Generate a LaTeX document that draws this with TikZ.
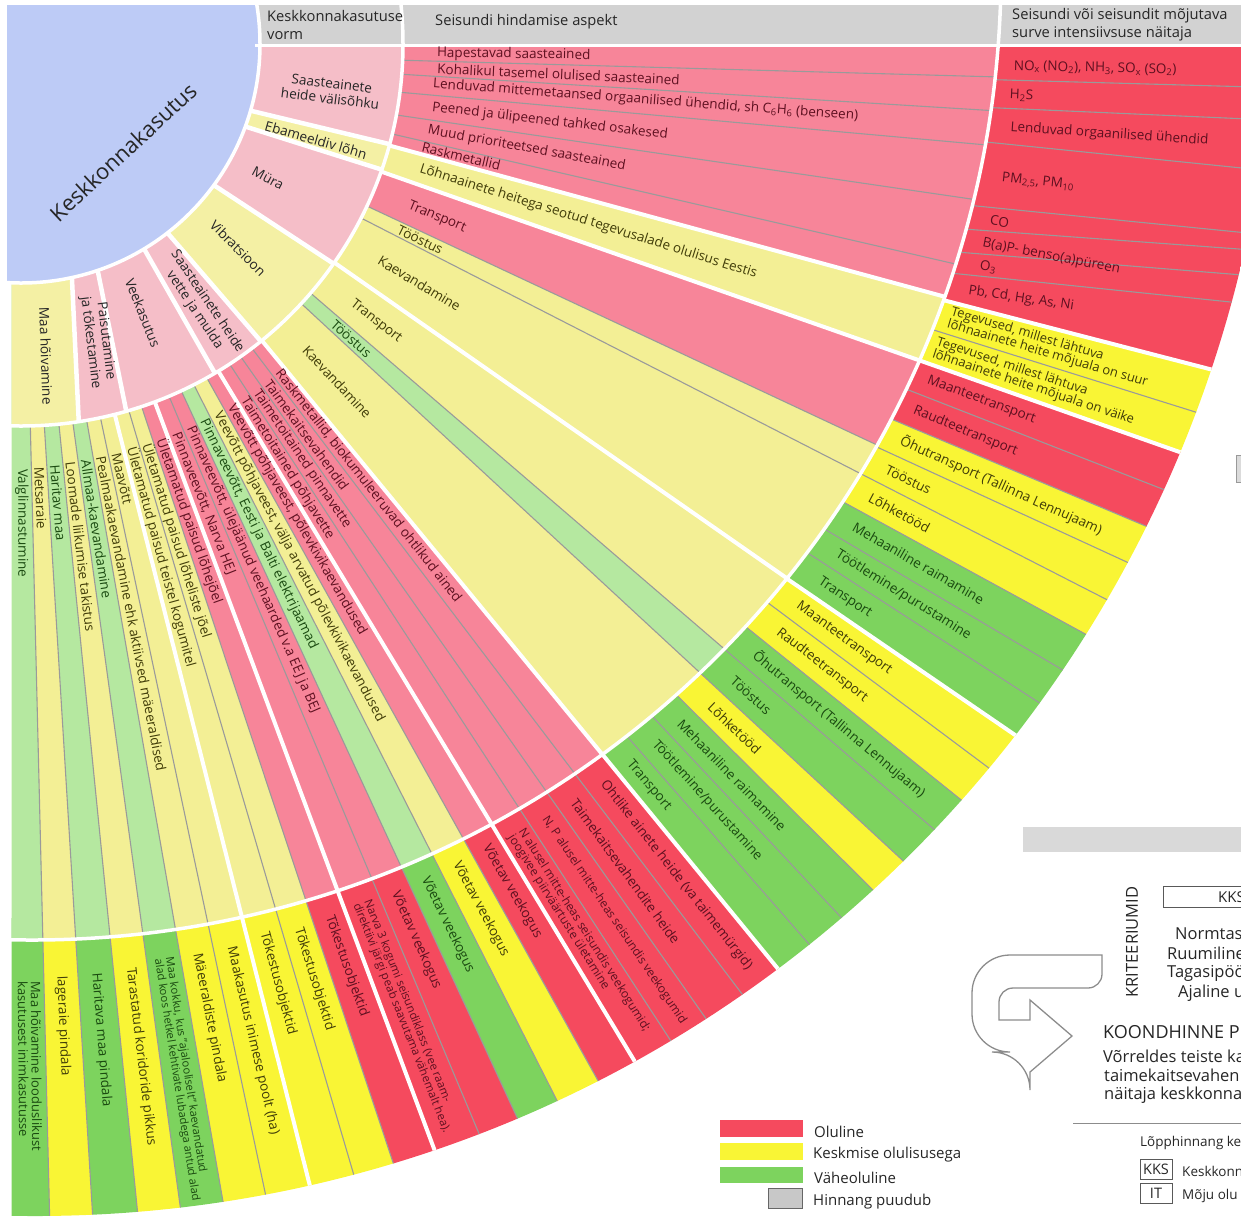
\documentclass[tikz,border=0pt]{standalone}
\usepackage{fontspec}
\setmainfont{Open Sans}
\usetikzlibrary{calc}
\definecolor{hdr}{HTML}{D2D2D2}
\definecolor{blu}{HTML}{BDCBF6}
\definecolor{pA}{HTML}{F5BEC8}
\definecolor{yA}{HTML}{F4F0A4}
\definecolor{pB}{HTML}{F78599}
\definecolor{yB}{HTML}{F3EF95}
\definecolor{gB}{HTML}{B5E8A0}
\definecolor{rC}{HTML}{F54A5E}
\definecolor{yC}{HTML}{F9F535}
\definecolor{gC}{HTML}{7DD35E}
\definecolor{tR}{HTML}{5E1020}
\definecolor{tY}{HTML}{403C08}
\definecolor{tG}{HTML}{1A4A10}
\definecolor{tK}{HTML}{262626}
\definecolor{sepg}{HTML}{9A9A9A}
\definecolor{lgr}{HTML}{C8C8C8}
\newcounter{tn}
\newcommand\RadIn{0}
\newcommand\RadOut{0}
\newcommand\mkband[5]{%
  \path ($(O)+(#1:\RadIn)$) coordinate (pa) ($(O)+(#2:\RadOut)$) coordinate (qa)
        ($(O)+(#3:\RadIn)$) coordinate (pb) ($(O)+(#4:\RadOut)$) coordinate (qb);
  \fill[#5] ($(pa)!-0.4!(qa)$) -- ($(pa)!1.4!(qa)$) -- ($(pb)!1.4!(qb)$) -- ($(pb)!-0.4!(qb)$) -- cycle;}
\newcommand\mksep[3]{%
  \path ($(O)+(#1:\RadIn)$) coordinate (pa) ($(O)+(#2:\RadOut)$) coordinate (qa);
  \draw[#3] ($(pa)!-0.4!(qa)$) -- ($(pa)!1.4!(qa)$);}
\newcommand\mktext[5]{\stepcounter{tn}%
  \node[rtxt, rotate=-#3, text=#4] (t\arabic{tn}) at ($(O)+(#1:#2)$) {#5};}
\newcommand\mktextf[6]{\stepcounter{tn}%
  \node[rtxt, font=\fontsize{#6}{#6}\selectfont, rotate=-#3, text=#4] (t\arabic{tn}) at ($(O)+(#1:#2)$) {#5};}
\begin{document}
\begin{tikzpicture}[x=1pt,y=-1pt,
  rtxt/.style={font=\fontsize{13.5}{15}\selectfont, inner sep=0pt, anchor=west, align=left},
  onetxt/.style={font=\fontsize{13.6}{15.5}\selectfont, inner sep=0pt, align=center, text=tK},
  hd/.style={font=\fontsize{14.7}{18}\selectfont, text=tK, anchor=west, align=left, inner sep=0pt},
  lg/.style={font=\fontsize{15}{18}\selectfont, text=tK, anchor=west, inner sep=0pt},
  rp/.style={font=\fontsize{16.5}{19}\selectfont, text=tK, anchor=west, inner sep=0pt},
  sm/.style={font=\fontsize{13.5}{16}\selectfont, text=tK, anchor=west, inner sep=0pt},
  wsep/.style={white, line width=4pt},
  gsep/.style={sepg, line width=1.1pt},
  wring/.style={white, line width=3.5pt}]
\useasboundingbox (0,0) rectangle (1241,1219);
\clip (0,0) rectangle (1241,1219);
\coordinate (O) at (21,44);
\coordinate (C2) at (32,-29);
\coordinate (C3) at (35,-24);

% header band
\fill[hdr] (255,5) rectangle (1241,44.5);

% ---------- ring 3 ----------
\begin{scope}
\clip (11.7,44) rectangle (1241,1219);
\clip (C3) circle (1240);
\renewcommand\RadIn{975}\renewcommand\RadOut{1225}
\mkband{0}{0}{2.1}{2.0}{rC}
\mkband{2.1}{2.0}{3.75}{3.5}{rC}
\mkband{3.75}{3.5}{5.8}{5.8}{rC}
\mkband{5.8}{5.8}{9.6}{8.8}{rC}
\mkband{9.6}{8.8}{11.0}{9.6}{rC}
\mkband{11.0}{9.6}{12.4}{10.8}{rC}
\mkband{12.4}{10.8}{13.7}{12.1}{rC}
\mkband{13.7}{12.1}{15.5}{15.3}{rC}
\mkband{15.5}{15.3}{17.4}{17.4}{yC}
\mkband{17.4}{17.4}{19.4}{19.4}{yC}
\mkband{19.4}{19.4}{21.3}{21.3}{rC}
\mkband{21.3}{21.3}{23.3}{23.2}{rC}
\mkband{23.3}{23.2}{25.2}{25.1}{yC}
\mkband{25.2}{25.1}{27.1}{27.1}{yC}
\mkband{27.1}{27.1}{29.1}{29.0}{yC}
\mkband{29.1}{29.0}{31.1}{31.0}{gC}
\mkband{31.1}{31.0}{32.9}{32.9}{gC}
\mkband{32.9}{32.9}{34.9}{34.8}{gC}
\mkband{34.9}{34.8}{36.8}{36.8}{yC}
\mkband{36.8}{36.8}{38.8}{38.8}{yC}
\mkband{38.8}{38.8}{40.7}{40.7}{gC}
\mkband{40.7}{40.7}{42.8}{42.8}{gC}
\mkband{42.8}{42.8}{44.8}{44.8}{yC}
\mkband{44.8}{44.8}{46.8}{46.8}{gC}
\mkband{46.8}{46.8}{48.8}{48.8}{gC}
\mkband{48.8}{48.8}{50.7}{50.7}{gC}
\mkband{50.7}{50.7}{52.8}{52.8}{rC}
\mkband{52.8}{52.8}{54.9}{54.9}{rC}
\mkband{54.9}{54.9}{56.9}{56.9}{rC}
\mkband{56.9}{56.9}{58.9}{58.9}{rC}
\mkband{58.9}{58.9}{60.9}{60.9}{rC}
\mkband{60.9}{60.9}{63.1}{63.1}{yC}
\mkband{63.1}{63.1}{65.2}{65.2}{gC}
\mkband{65.2}{65.2}{67.2}{67.2}{rC}
\mkband{67.2}{67.2}{69.5}{69.5}{rC}
\mkband{69.5}{69.5}{71.6}{71.6}{rC}
\mkband{71.6}{71.6}{73.6}{73.6}{yC}
\mkband{73.6}{73.6}{75.8}{75.8}{yC}
\mkband{75.8}{75.8}{78.0}{78.0}{yC}
\mkband{78.0}{78.0}{80.1}{80.1}{yC}
\mkband{80.1}{80.1}{82.2}{82.2}{gC}
\mkband{82.2}{82.2}{84.3}{84.3}{yC}
\mkband{84.3}{84.3}{86.5}{86.5}{gC}
\mkband{86.5}{86.5}{88.6}{88.6}{yC}
\mkband{88.6}{88.6}{94}{94}{gC}
\foreach \a/\b in {2.1/2.0,3.75/3.5,5.8/5.8,9.6/8.8,11.0/9.6,12.4/10.8,13.7/12.1,17.4/17.4,
  21.3/21.3,23.3/23.2,25.2/25.1,27.1/27.1,29.1/29.0,31.1/31.0,32.9/32.9,
  36.8/36.8,38.8/38.8,40.7/40.7,42.8/42.8,44.8/44.8,46.8/46.8,48.8/48.8,
  52.8/52.8,54.9/54.9,56.9/56.9,60.9/60.9,63.1/63.1,65.2/65.2,67.2/67.2,
  71.6/71.6,73.6/73.6,78.0/78.0,80.1/80.1,82.2/82.2,84.3/84.3,86.5/86.5,88.6/88.6}
  {\mksep{\a}{\b}{gsep}}
\foreach \a/\b in {15.5/15.3,19.4/19.4,34.9/34.8,50.7/50.7,58.9/58.9,69.5/69.5,75.8/75.8}
  {\mksep{\a}{\b}{wsep}}
\end{scope}

% ---------- ring 2 ----------
\begin{scope}
\clip (11.7,44) rectangle (1241,1219);
\clip (C2) circle (969);
\renewcommand\RadIn{400}\renewcommand\RadOut{960}
\mkband{0}{0}{2.4}{1.94}{pB}
\mkband{2.4}{1.94}{4.5}{3.93}{pB}
\mkband{4.5}{3.93}{7.16}{5.98}{pB}
\mkband{7.16}{5.98}{10.6}{9.27}{pB}
\mkband{10.6}{9.27}{13.6}{13.25}{pB}
\mkband{13.6}{13.25}{15.4}{15.3}{pB}
\mkband{15.4}{15.3}{19.5}{19.4}{yB}
\mkband{19.5}{19.4}{25.1}{25.1}{pB}
\mkband{25.1}{25.1}{27.1}{27.1}{yB}
\mkband{27.1}{27.1}{34.9}{34.9}{yB}
\mkband{34.9}{34.9}{40.7}{40.7}{yB}
\mkband{40.7}{40.7}{42.8}{42.8}{gB}
\mkband{42.8}{42.8}{50.9}{50.7}{yB}
\mkband{50.9}{50.7}{52.8}{52.8}{pB}
\mkband{52.8}{52.8}{54.9}{54.9}{pB}
\mkband{54.9}{54.9}{56.9}{56.9}{pB}
\mkband{56.9}{56.9}{58.9}{58.9}{pB}
\mkband{58.9}{58.9}{60.9}{60.9}{pB}
\mkband{60.9}{60.9}{63.1}{63.1}{yB}
\mkband{63.1}{63.1}{65.2}{65.2}{gB}
\mkband{65.2}{65.2}{67.2}{67.2}{pB}
\mkband{67.2}{67.2}{69.5}{69.5}{pB}
\mkband{69.5}{69.5}{71.6}{71.6}{pB}
\mkband{71.6}{71.6}{73.6}{73.6}{yB}
\mkband{73.6}{73.6}{75.8}{75.8}{yB}
\mkband{75.8}{75.8}{78.0}{78.0}{yB}
\mkband{78.0}{78.0}{80.1}{80.1}{yB}
\mkband{80.1}{80.1}{82.2}{82.2}{gB}
\mkband{82.2}{82.2}{84.3}{84.3}{yB}
\mkband{84.3}{84.3}{86.5}{86.5}{gB}
\mkband{86.5}{86.5}{88.6}{88.6}{yB}
\mkband{88.6}{88.6}{94}{94}{gB}
\foreach \a/\b in {2.4/1.94,4.5/3.93,7.16/5.98,10.6/9.27,13.6/13.25,25.1/25.1,27.1/27.1,40.7/40.7,42.8/42.8,
  52.8/52.8,54.9/54.9,56.9/56.9,60.9/60.9,63.1/63.1,65.2/65.2,67.2/67.2,71.6/71.6,73.6/73.6,
  78.0/78.0,80.1/80.1,82.2/82.2,84.3/84.3,86.5/86.5,88.6/88.6}
  {\mksep{\a}{\b}{gsep}}
\foreach \a/\b in {15.4/15.3,19.5/19.4,34.9/34.9,50.9/50.7,58.9/58.9,69.5/69.5,75.8/75.8}
  {\mksep{\a}{\b}{wsep}}
\end{scope}

% ---------- ring 1 ----------
\begin{scope}
\clip (11.7,44) rectangle (1241,1219);
\clip (O) circle (382);
\renewcommand\RadIn{239}\renewcommand\RadOut{382}
\mkband{0}{0}{16.2}{15.2}{pA}
\mkband{16.2}{15.2}{20.2}{19.2}{yA}
\mkband{20.2}{19.2}{36.2}{35.1}{pA}
\mkband{36.2}{35.1}{52.2}{51.1}{yA}
\mkband{52.2}{51.1}{59.0}{59.5}{pA}
\mkband{59.0}{59.5}{71.3}{74.0}{pA}
\mkband{71.3}{74.0}{77.7}{81.3}{pA}
\mkband{77.7}{81.3}{94}{94}{yA}
\foreach \a/\b in {16.2/15.2,20.2/19.2,36.2/35.1,52.2/51.1,59.0/59.5,71.3/74.0,77.7/81.3}
  {\mksep{\a}{\b}{line width=4.5pt, white}}
\end{scope}

% ---------- centre ----------
\begin{scope}
\clip (7,5) rectangle (1241,1219);
\fill[blu] (O) circle (239);
\end{scope}
\draw[wring] (O) circle (239);
\draw[wring] (O) circle (382);
\draw[wring] (C2) circle (969);
\draw[white, line width=3pt] (255,45.5) -- (1241,45.5);

% ---------- header texts ----------
\node[hd] (h1) at (267,25) {Keskkonnakasutuse\\vorm};
\node[hd] (h2) at (435,22) {Seisundi hindamise aspekt};
\node[hd] (h3) at (1012,25) {Seisundi või seisundit mõjutava\\surve intensiivsuse näitaja};

% ---------- centre & ring 1 texts ----------
\node[font=\fontsize{22}{24}\selectfont, text=tK, rotate=43, inner sep=0pt] (kk) at (123,152) {Keskkonnakasutus};
\node[onetxt, rotate=-7] (c1) at (331,91) {Saasteainete\\heide välisõhku};
\node[onetxt, rotate=-16] (c2) at (316,140) {Ebameeldiv lõhn};
\node[onetxt, rotate=-28] (c3) at (268,178) {Müra};
\node[onetxt, rotate=-45] (c4) at (238,248) {Vibratsioon};
\node[onetxt, rotate=-56] (c5) at (201,306) {Saasteainete heide\\vette ja mulda};
\node[onetxt, rotate=-68] (c6) at (143,313) {Veekasutus};
\node[onetxt, rotate=-83] (c7) at (98,342) {Paisutamine\\ja tõkestamine};
\node[onetxt, rotate=-88] (c8) at (46,356) {Maa hõivamine};

% ---------- ring 2 texts ----------
\mktext{1.3}{416}{0.9}{tR}{Hapestavad saasteained}
\mktext{3.4}{417}{2.6}{tR}{Kohalikul tasemel olulised saasteained}
\mktext{5.6}{414}{4.3}{tR}{Lenduvad mittemetaansed orgaanilised ühendid, sh C\textsubscript{6}H\textsubscript{6} (benseen)}
\mktext{8.8}{416}{6.7}{tR}{Peened ja ülipeened tahked osakesed}
\mktext{12.0}{416}{10.3}{tR}{Muud prioriteetsed saasteained}
\mktext{14.4}{414}{13.3}{tR}{Raskmetallid}
\mktext{17.4}{418}{17.4}{tY}{Lõhnaainete heitega seotud tegevusalade olulisus Eestis}
\mktext{22.6}{420}{22.6}{tR}{Transport}
\mktext{26.1}{420}{26.1}{tY}{Tööstus}
\mktext{31.0}{418}{31.0}{tY}{Kaevandamine}
\mktext{38.0}{420}{38.0}{tY}{Transport}
\mktext{41.75}{418}{41.75}{tG}{Tööstus}
\mktext{46.9}{416}{46.9}{tY}{Kaevandamine}
\mktext{51.8}{416}{51.8}{tR}{Raskmetallid, biokumuleeruvad ohtlikud ained}
\mktext{53.85}{418}{53.85}{tR}{Taimekaitsevahendid}
\mktext{55.9}{419}{55.9}{tR}{Taimetoitained pinnavette}
\mktext{57.9}{419}{57.9}{tR}{Taimetoitained põhjavette}
\mktext{59.9}{418}{59.9}{tR}{Veevõtt põhjaveest, põlevkivikaevandused}
\mktext{62.0}{418}{62.0}{tY}{Veevõtt põhjaveest, välja arvatud põlevkivikaevandused}
\mktext{64.15}{418}{64.15}{tG}{Pinnaveevõtt, Eesti ja Balti elektrijaamad}
\mktext{66.2}{419}{66.2}{tR}{Pinnaveevõtt, ülejäänud veehaarded v.a EEJ ja BEJ}
\mktext{68.35}{419}{68.35}{tR}{Pinnaveevõtt, Narva HEJ}
\mktext{70.55}{419}{70.55}{tR}{Ületamatud paisud lõhejõel}
\mktext{72.6}{419}{72.6}{tY}{Ületamatud paisud lõheliste jõel}
\mktext{74.7}{418}{74.7}{tY}{Ületamatud paisud teistel kogumitel}
\mktext{76.9}{420}{76.9}{tY}{Maavõtt}
\mktext{79.05}{420}{79.05}{tY}{Pealmaakaevandamine ehk aktiivsed mäeeraldised}
\mktext{81.15}{421}{81.15}{tG}{Allmaa-kaevandamine}
\mktext{83.25}{421}{83.25}{tY}{Loomade liikumise takistus}
\mktext{85.4}{422}{85.4}{tG}{Haritav maa}
\mktext{87.55}{423}{87.55}{tY}{Metsaraie}
\mktext{89.9}{425}{89.9}{tG}{Valglinnastumine}

% ---------- ring 3 texts ----------
\mktext{1.3}{993}{1.2}{tR}{NO\textsubscript{x} (NO\textsubscript{2}), NH\textsubscript{3}, SO\textsubscript{x} (SO\textsubscript{2})}
\mktext{2.95}{990}{2.5}{tR}{H\textsubscript{2}S}
\mktext{4.85}{993}{3.75}{tR}{Lenduvad orgaanilised ühendid}
\mktext{7.8}{990}{6}{tR}{PM\textsubscript{2,5}, PM\textsubscript{10}}
\mktext{10.3}{985}{8}{tR}{CO}
\mktext{11.7}{982}{11}{tR}{B(a)P- benso(a)püreen}
\mktext{13.0}{984}{10}{tR}{O\textsubscript{3}}
\mktext{14.6}{979}{8.5}{tR}{Pb, Cd, Hg, As, Ni}
\mktextf{16.45}{968}{16.4}{tY}{Tegevused, millest lähtuva\\lõhnaainete heite mõjuala on suur}{13}
\mktextf{18.4}{963}{18.4}{tY}{Tegevused, millest lähtuva\\lõhnaainete heite mõjuala on väike}{13}
\mktext{20.35}{967}{20.35}{tR}{Maanteetransport}
\mktext{22.3}{965}{22.3}{tR}{Raudteetransport}
\mktext{24.25}{965}{24.25}{tY}{Õhutransport (Tallinna Lennujaam)}
\mktext{26.15}{964}{26.15}{tY}{Tööstus}
\mktext{28.1}{962}{28.1}{tY}{Lõhketööd}
\mktext{30.05}{962}{30.05}{tG}{Mehaaniline raimamine}
\mktext{32.0}{962}{32.0}{tG}{Töötlemine/purustamine}
\mktext{33.9}{962}{33.9}{tG}{Transport}
\mktext{35.85}{958}{35.85}{tY}{Maanteetransport}
\mktext{37.8}{958}{37.8}{tY}{Raudteetransport}
\mktext{39.75}{954}{39.75}{tG}{Õhutransport (Tallinna Lennujaam)}
\mktext{41.75}{954}{41.75}{tG}{Tööstus}
\mktext{43.8}{955}{43.8}{tY}{Lõhketööd}
\mktext{45.8}{945}{45.8}{tG}{Mehaaniline raimamine}
\mktext{47.8}{943}{47.8}{tG}{Töötlemine/purustamine}
\mktext{49.75}{941}{49.75}{tG}{Transport}
\mktext{51.75}{940}{51.75}{tR}{Ohtlike ainete heide (va taimemürgid)}
\mktext{53.85}{937}{53.85}{tR}{Taimekaitsevahendite heide}
\mktextf{55.9}{934}{55.9}{tR}{N, P alusel mitte-heas seisundis veekogumid}{12}
\mktextf{57.9}{931}{57.9}{tR}{N alusel mitte-heas seisundis veekogumid;\\joogivee piirväärtuste ületamine}{12}
\mktext{59.9}{927}{59.9}{tR}{Võetav veekogus}
\mktext{62.0}{927}{62.0}{tY}{Võetav veekogus}
\mktext{64.15}{926}{64.15}{tG}{Võetav veekogus}
\mktext{66.2}{927}{66.2}{tR}{Võetav veekogus}
\mktextf{68.35}{923}{68.35}{tR}{Narva 3 kogumi seisundiklass (vee raam-\\direktiivi järgi peab saavutama vähemalt hea).}{11.5}
\mktext{70.55}{925}{70.55}{tR}{Tõkestusobjektid}
\mktext{72.6}{927}{72.6}{tY}{Tõkestusobjektid}
\mktext{74.7}{921}{74.7}{tY}{Tõkestusobjektid}
\mktext{76.9}{927}{76.9}{tY}{Maakasutus inimese poolt (ha)}
\mktext{79.05}{926}{79.05}{tY}{Mäeeraldiste pindala}
\mktextf{81.15}{925}{81.15}{tG}{Maa kokku, kus "ajalooliselt" kaevandatud\\alad koos hetkel kehtivate lubadega antud alad}{11.2}
\mktext{83.25}{930}{83.25}{tY}{Tarastatud koridoride pikkus}
\mktext{85.4}{932}{85.4}{tG}{Haritava maa pindala}
\mktext{87.55}{933}{87.55}{tY}{lageraie pindala}
\mktextf{89.5}{937}{89.5}{tG}{Maa hõivamine looduslikust\\kasutusest inimkasutusse}{13}

% ---------- legend ----------
\fill[rC] (720,1120) rectangle (803,1137);
\fill[yC] (720,1143) rectangle (803,1160);
\fill[gC] (720,1167) rectangle (803,1183);
\filldraw[fill=lgr, draw=black!60, line width=0.8pt] (768,1188) rectangle (802,1208);
\node[lg] (l1) at (814,1132) {Oluline};
\node[lg] (l2) at (813,1155) {Keskmise olulisusega};
\node[lg] (l3) at (814,1178) {Väheoluline};
\node[lg] (l4) at (813,1202) {Hinnang puudub};

% ---------- right panel (cut at the edge) ----------
\filldraw[fill=hdr!80, draw=black!40] (1236.5,455) rectangle (1250,482);
\fill[hdr!85] (1023,827) rectangle (1241,852);
\node[font=\fontsize{16.5}{19}\selectfont, text=tK, rotate=90, inner sep=0pt] (kr) at (1132,942) {KRITEERIUMID};
\draw[black!65, line width=0.8pt] (1163,886) rectangle (1260,907);
\node[lg] (k1) at (1218,897) {KKS};
\node[rp] (n1) at (1175,934) {Normtas};
\node[rp] (n2) at (1167,953) {Ruumiline};
\node[rp] (n3) at (1167,973) {Tagasipöö};
\node[rp] (n4) at (1178,993) {Ajaline u};
\draw[black!45, line width=1.3pt] (1102,955) [rounded corners=38pt] -- (972,955) -- (972,1052) -- (1030,1052)
   [sharp corners] -- (1030,1072) -- (1072,1036) -- (1030,1000) -- (1030,1020) -- (999,1020)
   [rounded corners=14pt] -- (999,988) -- (1102,988) [sharp corners] -- cycle;
\node[font=\fontsize{18}{20}\selectfont, text=tK, anchor=west, inner sep=0pt] (ko) at (1103,1032) {KOONDHINNE P};
\node[rp] (v1) at (1103,1056) {Võrreldes teiste ka};
\node[rp] (v2) at (1104,1075) {taimekaitsevahen};
\node[rp] (v3) at (1104,1095) {näitaja keskkonna};
\draw[black!45, line width=1pt] (1073,1123) -- (1241,1123);
\node[sm] (lp) at (1140,1143) {Lõpphinnang ke};
\draw[black!65, line width=0.8pt] (1140,1159) rectangle (1172,1179);
\draw[black!65, line width=0.8pt] (1140,1183) rectangle (1172,1203);
\node[font=\fontsize{14.5}{16}\selectfont, text=tK, inner sep=0pt] (b1) at (1156,1169) {KKS};
\node[font=\fontsize{14.5}{16}\selectfont, text=tK, inner sep=0pt] (b2) at (1156,1193) {IT};
\node[sm] (e1) at (1182,1171) {Keskkonn};
\node[sm] (e2) at (1182,1196) {Mõju olu};
\end{tikzpicture}
\end{document}
